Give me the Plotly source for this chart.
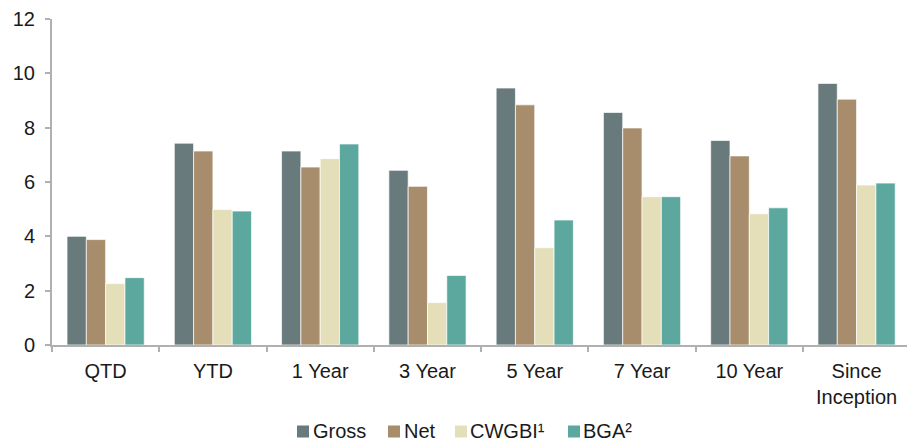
import plotly.graph_objects as go

periods = ["QTD", "YTD", "1 Year", "3 Year", "5 Year", "7 Year", "10 Year", "Since<br>Inception"]
gross = [4.00, 7.43, 7.14, 6.43, 9.46, 8.56, 7.53, 9.63]
net = [3.88, 7.14, 6.55, 5.84, 8.84, 7.99, 6.96, 9.05]
cwgbi = [2.26, 4.99, 6.86, 1.56, 3.58, 5.46, 4.83, 5.89]
bga = [2.48, 4.93, 7.40, 2.56, 4.60, 5.46, 5.05, 5.96]

series_names = ["Gross", "Net", "CWGBI¹", "BGA²"]
series_values = [gross, net, cwgbi, bga]
series_colors = ["#687a7c", "#a78d6b", "#e4dfb8", "#5ca89e"]

y_ticks = [0, 2, 4, 6, 8, 10, 12]

W, H = 907, 441
M_L, M_R, M_T, M_B = 52, 0, 19, 96
plot_w = W - M_L - M_R
plot_h = H - M_T - M_B


def px_to_paper_x(px):
    return (px - M_L) / plot_w


def px_to_paper_y(py):
    return (H - M_B - py) / plot_h


fig = go.Figure()
for name, vals, color in zip(series_names, series_values, series_colors):
    fig.add_trace(go.Bar(
        x=periods, y=vals, name=name, showlegend=False,
        marker=dict(color=color, line=dict(color="rgba(255,255,255,0.7)", width=1)),
    ))

axis_grey = "#b0b0b0"
font = dict(family="Liberation Sans, Arial, sans-serif", size=20, color="#1a1a1a")

# Legend row below the category labels: colour swatch followed by its label
legend_swatch_left = [297, 388, 455, 568]
legend_text_left = [313, 404, 470, 583]
swatch = 12
legend_mid = 431.5
for name, color, sx, tx in zip(series_names, series_colors, legend_swatch_left, legend_text_left):
    fig.add_shape(
        type="rect", xref="paper", yref="paper",
        x0=px_to_paper_x(sx), x1=px_to_paper_x(sx + swatch),
        y0=px_to_paper_y(legend_mid - swatch / 2), y1=px_to_paper_y(legend_mid + swatch / 2),
        fillcolor=color, line=dict(width=0),
    )
    fig.add_annotation(
        text=name, xref="paper", yref="paper",
        x=px_to_paper_x(tx - 2), y=px_to_paper_y(legend_mid - 1),
        xanchor="left", yanchor="middle", showarrow=False, font=font,
    )

fig.update_layout(
    width=W, height=H,
    margin=dict(l=M_L, r=M_R, t=M_T, b=M_B),
    paper_bgcolor="white", plot_bgcolor="white",
    barmode="group", bargap=0.28, bargroupgap=0,
    font=font,
    showlegend=False,
    xaxis=dict(
        range=[-0.5, 7.47],
        showline=True, linecolor=axis_grey, linewidth=2,
        ticks="outside", tickson="boundaries", ticklen=5, tickcolor=axis_grey, tickwidth=2,
        showgrid=False, zeroline=False, ticklabelstandoff=7,
    ),
    yaxis=dict(
        range=[0, 12], tickvals=y_ticks,
        showline=True, linecolor=axis_grey, linewidth=2,
        ticks="outside", ticklen=5, tickcolor=axis_grey, tickwidth=2,
        showgrid=False, zeroline=False, ticklabelstandoff=6,
    ),
)

fig.write_html("out.html")
